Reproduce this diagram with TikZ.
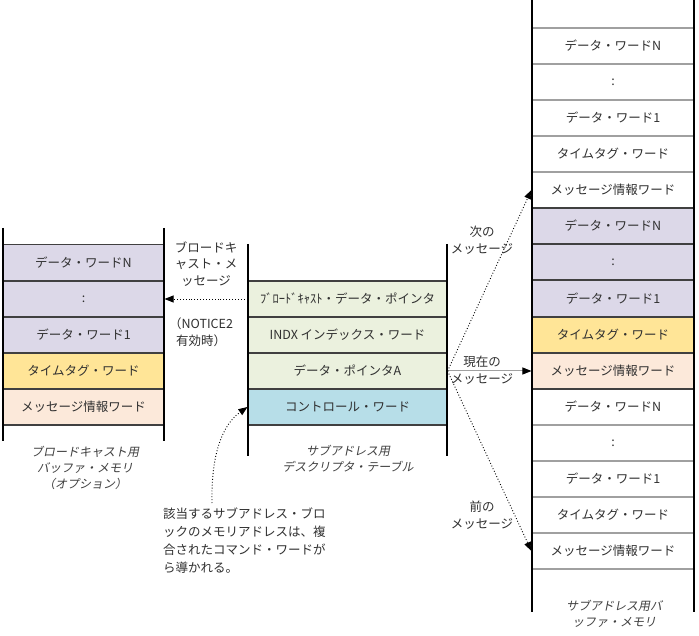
\documentclass[tikz,border=0pt]{standalone}
\usepackage{fontspec}
\setmainfont{Noto Sans CJK JP}
\newfontfamily\slfont{Noto Sans CJK JP}[FakeSlant=0.2]
\usetikzlibrary{arrows.meta}
\definecolor{lav}{HTML}{DCD8E8}
\definecolor{ylw}{HTML}{FFE597}
\definecolor{pch}{HTML}{FCE9DA}
\definecolor{grn}{HTML}{EBF1DE}
\definecolor{blu}{HTML}{B7DEE8}
\definecolor{txt}{HTML}{303030}
\definecolor{dk}{HTML}{404040}
\definecolor{lg}{HTML}{A0A0A0}
\begin{document}
\begin{tikzpicture}[x=1pt,y=-1pt,
  base/.style={minimum height=36pt,inner sep=0pt,text=txt,line width=1.1pt,
    font=\fontsize{12.5}{15}\selectfont},
  lcell/.style={base,minimum width=161pt,draw=dk},
  mcell/.style={base,minimum width=199pt,draw=dk},
  rcell/.style={base,minimum width=162pt,draw=lg},
  rcol/.style={base,minimum width=162pt,draw=dk},
  vline/.style={line width=2pt,black},
  lbl/.style={text=txt,align=center,inner sep=0pt,font=\fontsize{12.5}{16.5}\selectfont},
  ital/.style={text=dk,align=center,inner sep=0pt,font=\slfont\fontsize{12}{16}\selectfont},
  arr/.style={-{Triangle[length=9pt,width=7pt]},black,line width=0.9pt,dotted},
]
\useasboundingbox (0,0) rectangle (699,636);
\fill[white] (0,0) rectangle (699,636);

% left buffer
\node[lcell,fill=lav] (l1) at (83.5,262.5) {データ・ワードN};
\node[lcell,fill=lav] (l2) at (83.5,299) {:};
\node[lcell,fill=lav] (l3) at (83.5,335) {データ・ワード1};
\node[lcell,fill=ylw] (l4) at (83.5,371) {タイムタグ・ワード};
\node[lcell,fill=pch] (l5) at (83.5,407) {メッセージ情報ワード};
\draw[vline] (3,228) -- (3,441);
\draw[vline] (164,228) -- (164,441);

% middle table
\node[mcell,fill=grn] (m1) at (347.5,299) {ﾌﾞﾛｰﾄﾞｷｬｽﾄ・データ・ポインタ};
\node[mcell,fill=grn] (m2) at (347.5,335) {INDX インデックス・ワード};
\node[mcell,fill=grn] (m3) at (347.5,371) {データ・ポインタA};
\node[mcell,fill=blu] (m4) at (347.5,407) {コントロール・ワード};
\draw[vline] (248,244) -- (248,456);
\draw[vline] (447,244) -- (447,456);

% right buffer
\node[rcell] (r1) at (613,46) {データ・ワードN};
\node[rcell] (r2) at (613,82) {:};
\node[rcell] (r3) at (613,118) {データ・ワード1};
\node[rcell] (r4) at (613,154) {タイムタグ・ワード};
\node[rcell] (r5) at (613,190) {メッセージ情報ワード};
\node[rcell] (r11) at (613,407) {データ・ワードN};
\node[rcell] (r12) at (613,443) {:};
\node[rcell] (r13) at (613,479) {データ・ワード1};
\node[rcell] (r14) at (613,515) {タイムタグ・ワード};
\node[rcell] (r15) at (613,551) {メッセージ情報ワード};
\node[rcol,fill=lav] (r6) at (613,226) {データ・ワードN};
\node[rcol,fill=lav] (r7) at (613,262) {:};
\node[rcol,fill=lav] (r8) at (613,298.5) {データ・ワード1};
\node[rcol,fill=ylw] (r9) at (613,335) {タイムタグ・ワード};
\node[rcol,fill=pch] (r10) at (613,371) {メッセージ情報ワード};
\draw[vline] (532,0) -- (532,612);
\draw[vline] (694,0) -- (694,612);

% labels
\node[ital] (tl) at (85,468) {ブロードキャスト用\\バッファ・メモリ\\（オプション）};
\node[ital] (tm) at (348,459) {サブアドレス用\\デスクリプタ・テーブル};
\node[ital] (tr) at (614,614) {サブアドレス用バ\\ッファ・メモリ};

\node[lbl] (bcl) at (206,264) {ブロードキ\\ャスト・メ\\ッセージ};
\node[lbl] (ntc) at (201,332) {（NOTICE2\\有効時）};
\node[lbl] (nxt) at (482,240) {次の\\メッセージ};
\node[lbl] (cur) at (482,370) {現在の\\メッセージ};
\node[lbl] (prv) at (482,515) {前の\\メッセージ};
\node[text=txt,align=left,anchor=north west,inner sep=0pt,
  font=\fontsize{12.5}{17.7}\selectfont] (note) at (163,508)
  {該当するサブアドレス・ブロ\\ックのメモリアドレスは、複\\合されたコマンド・ワードが\\ら導かれる。};

% connectors
\draw[arr] (m1.west) -- (l2.east);
\draw[-{Triangle[length=9pt,width=7pt]},line width=1pt,lg,
  arrows={-{Triangle[length=9pt,width=7pt,fill=black,color=black]}}] (m3.east) -- (r10.west);
\draw[arr] (m3.east) -- (r5.west);
\draw[arr] (m3.east) -- (r15.west);
\coordinate (cs) at (212,503);
\draw[arr] (cs) .. controls (211,455) and (222,425) .. (m4.west);
\end{tikzpicture}
\end{document}
